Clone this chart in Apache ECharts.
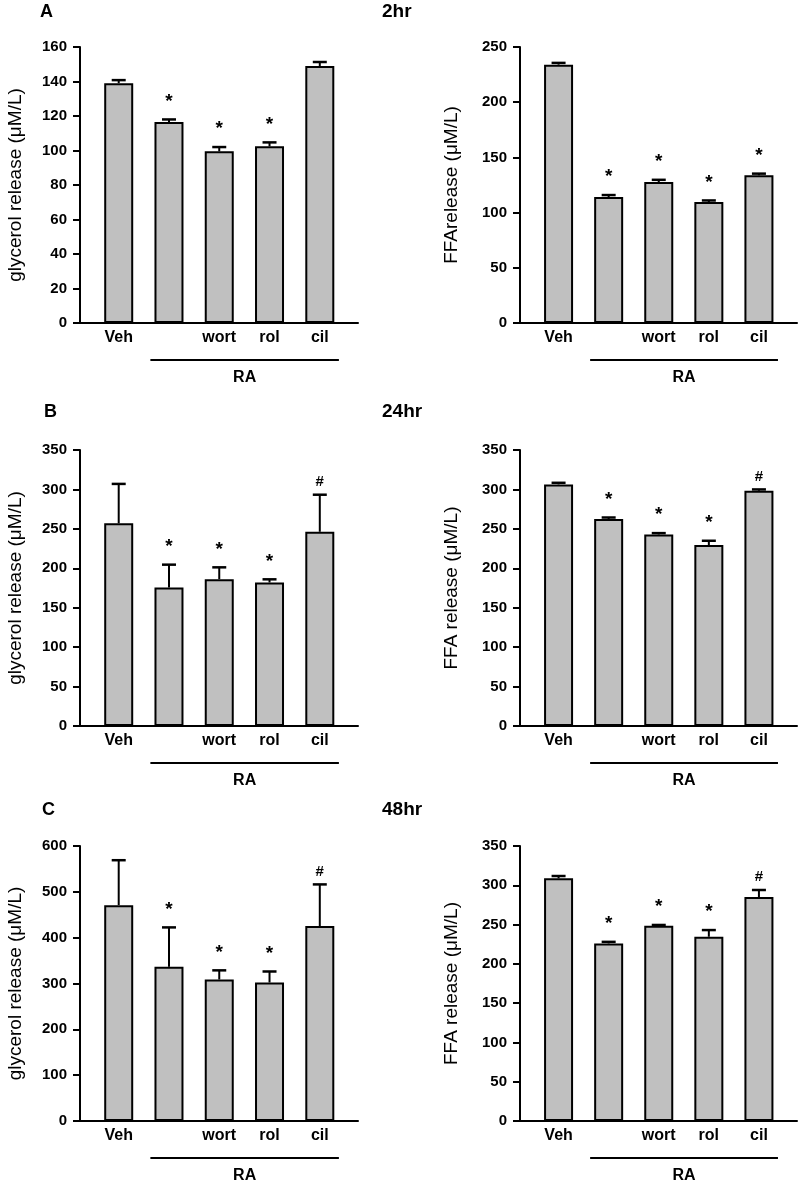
<!DOCTYPE html>
<html>
<head>
<meta charset="utf-8">
<script src="https://cdn.jsdelivr.net/npm/echarts@6/dist/echarts.min.js"></script>
<style>html,body{margin:0;padding:0;background:#fff}#c{width:800px;height:1185px}</style>
</head>
<body>
<div id="c"></div>
<script>
// ---- data ----
const categories = ['Veh', '', 'wort', 'rol', 'cil'];
const glycerol2hr = [139, 116.5, 99.5, 102.4, 149];
const glycerol2hrErr = [1.8, 1.5, 2.5, 2.3, 2.3];
const ffa2hr = [234, 114.1, 127.7, 109.6, 133.8];
const ffa2hrErr = [1.6, 1.8, 2, 1.4, 1.5];
const glycerol24hr = [257, 175.6, 186.2, 182, 246.3];
const glycerol24hrErr = [50, 29, 15, 4, 47];
const ffa24hr = [306.4, 262.4, 242.9, 229.4, 298.3];
const ffa24hrErr = [2, 2, 1.7, 5.5, 1.7];
const glycerol48hr = [471, 336.4, 308.7, 302.2, 425.2];
const glycerol48hrErr = [98, 86, 20, 24, 91];
const ffa48hr = [308.8, 226, 248.5, 234.5, 285];
const ffa48hrErr = [3, 2, 1, 8.5, 9];
const marks2hrGly = ['', '*', '*', '*', ''];
const marks2hrFfa = ['', '*', '*', '*', '*'];
const marksLater = ['', '*', '*', '*', '#'];
const groupLabel = 'RA';
const panelLetters = ['A', 'B', 'C'];
const timeLabels = ['2hr', '24hr', '48hr'];

// ---- build ----
const FONT = "'Liberation Sans', Arial, sans-serif";
const panels = [
  {vals: glycerol2hr, err: glycerol2hrErr, marks: marks2hrGly, name: 'glycerol release (\u03bcM/L)', max: 160, step: 20, col: 0, row: 0},
  {vals: ffa2hr, err: ffa2hrErr, marks: marks2hrFfa, name: 'FFArelease (\u03bcM/L)', max: 250, step: 50, col: 1, row: 0},
  {vals: glycerol24hr, err: glycerol24hrErr, marks: marksLater, name: 'glycerol release (\u03bcM/L)', max: 350, step: 50, col: 0, row: 1},
  {vals: ffa24hr, err: ffa24hrErr, marks: marksLater, name: 'FFA release (\u03bcM/L)', max: 350, step: 50, col: 1, row: 1},
  {vals: glycerol48hr, err: glycerol48hrErr, marks: marksLater, name: 'glycerol release (\u03bcM/L)', max: 600, step: 100, col: 0, row: 2},
  {vals: ffa48hr, err: ffa48hrErr, marks: marksLater, name: 'FFA release (\u03bcM/L)', max: 350, step: 50, col: 1, row: 2}
];
const gridLefts = [80, 520];
const gridWidths = [278, 277];
const gridTops = [47, 450, 846];
const gridHeights = [276, 276, 275];

const grid = [], xAxis = [], yAxis = [], series = [], title = [];

panels.forEach((p, i) => {
  grid.push({left: gridLefts[p.col], width: gridWidths[p.col], top: gridTops[p.row], height: gridHeights[p.row], containLabel: false});
  xAxis.push({
    type: 'value', gridIndex: i, min: -0.77, max: 4.76,
    splitLine: {show: false}, axisTick: {show: false},
    axisLine: {show: true, lineStyle: {color: '#000', width: 2}},
    axisLabel: {customValues: [0, 1, 2, 3, 4], formatter: v => categories[Math.round(v)],
      color: '#000', fontSize: 16, fontWeight: 'bold', fontFamily: FONT, margin: 7}
  });
  yAxis.push({
    type: 'value', gridIndex: i, min: 0, max: p.max, interval: p.step,
    splitLine: {show: false},
    axisLine: {show: true, onZero: false, lineStyle: {color: '#000', width: 2}},
    axisTick: {show: true, length: 7, lineStyle: {color: '#000', width: 2}},
    axisLabel: {color: '#000', fontSize: 15, fontWeight: 'bold', fontFamily: FONT, margin: 13},
    name: p.name, nameLocation: 'middle', nameRotate: 90, nameGap: p.col === 0 ? 55 : 59,
    nameTextStyle: {color: '#000', fontSize: 19, fontFamily: FONT}
  });
  series.push({
    type: 'bar', xAxisIndex: i, yAxisIndex: i, barWidth: 29,
    data: p.vals.map((v, k) => [k, v]),
    itemStyle: {color: '#c0c0c0', borderColor: '#000', borderWidth: 2},
    silent: true
  });
  const marks = p.marks;
  series.push({
    type: 'custom', xAxisIndex: i, yAxisIndex: i, clip: false, silent: true,
    data: p.vals.map((v, k) => [k, v, v + p.err[k]]),
    renderItem: (params, api) => {
      const x = api.value(0), v = api.value(1), t = api.value(2);
      const p0 = api.coord([x, v]), p1 = api.coord([x, t]);
      const children = [
        {type: 'line', shape: {x1: p0[0], y1: p0[1], x2: p1[0], y2: p1[1]}, style: {stroke: '#000', lineWidth: 2}},
        {type: 'line', shape: {x1: p1[0] - 7, y1: p1[1], x2: p1[0] + 7, y2: p1[1]}, style: {stroke: '#000', lineWidth: 2.5}}
      ];
      const m = marks[params.dataIndex];
      if (m) {
        const star = m === '*';
        children.push({type: 'text', style: {text: m, x: p1[0], y: p1[1] - (star ? 18 : 13),
          align: 'center', verticalAlign: 'middle', fontSize: star ? 19 : 15, fontWeight: 'bold', fontFamily: FONT, fill: '#000'}});
      }
      return {type: 'group', children};
    }
  });
  series.push({
    type: 'custom', xAxisIndex: i, yAxisIndex: i, clip: false, silent: true,
    data: [[0, 0]],
    renderItem: (params, api) => {
      const a = api.coord([0.63, 0]), b = api.coord([4.38, 0]);
      return {type: 'group', children: [
        {type: 'line', shape: {x1: a[0], y1: a[1] + 37, x2: b[0], y2: b[1] + 37}, style: {stroke: '#000', lineWidth: 2}},
        {type: 'text', style: {text: groupLabel, x: (a[0] + b[0]) / 2, y: a[1] + 55, align: 'center', verticalAlign: 'middle',
          fontSize: 16, fontWeight: 'bold', fontFamily: FONT, fill: '#000'}}
      ]};
    }
  });
});

const letterTops = [3, 403, 801];
const letterLefts = [40, 44, 42];
panelLetters.forEach((L, r) => {
  title.push({text: L, left: letterLefts[r], top: letterTops[r], padding: 0,
    textStyle: {fontSize: 18, fontWeight: 'bold', fontFamily: FONT, color: '#000'}});
  title.push({text: timeLabels[r], left: 382, top: letterTops[r] - 1, padding: 0,
    textStyle: {fontSize: 19, fontWeight: 'bold', fontFamily: FONT, color: '#000'}});
});

const chart = echarts.init(document.getElementById('c'), null, {renderer: 'canvas'});
chart.setOption({animation: false, backgroundColor: '#fff', title, grid, xAxis, yAxis, series});
</script>
</body>
</html>
